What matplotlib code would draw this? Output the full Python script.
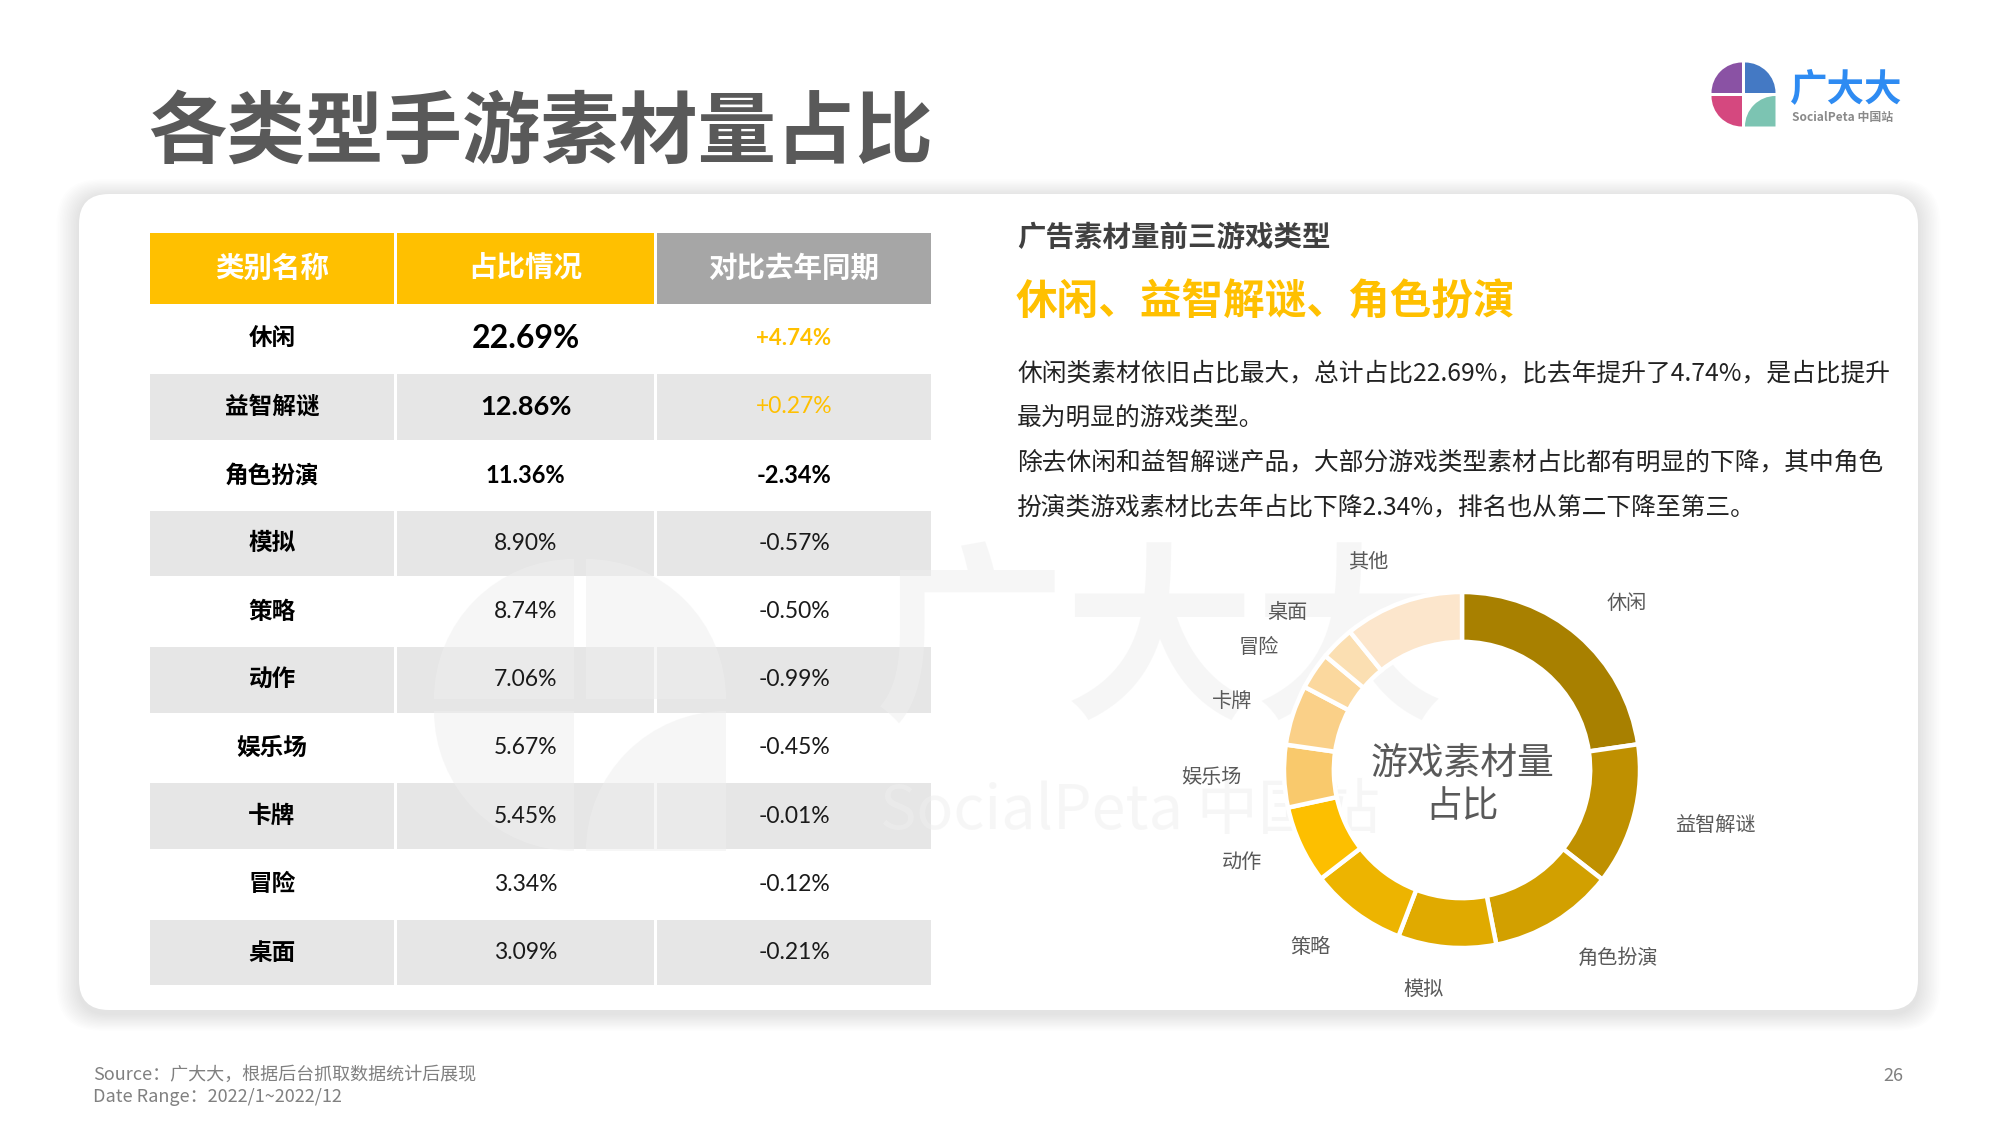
import matplotlib
matplotlib.use('Agg')
import matplotlib.pyplot as plt
from matplotlib.patches import Rectangle, FancyBboxPatch, Wedge

# ---------------- data ----------------
categories = ['休闲', '益智解谜', '角色扮演', '模拟', '策略', '动作', '娱乐场', '卡牌', '冒险', '桌面']
share = [22.69, 12.86, 11.36, 8.90, 8.74, 7.06, 5.67, 5.45, 3.34, 3.09]
yoy = [4.74, 0.27, -2.34, -0.57, -0.50, -0.99, -0.45, -0.01, -0.12, -0.21]
headers = ['类别名称', '占比情况', '对比去年同期']

pie_labels = ['休闲', '益智解谜', '角色扮演', '模拟', '策略', '动作', '娱乐场', '卡牌', '冒险', '桌面', '其他']
pie_values = [22.69, 12.86, 11.36, 8.90, 8.74, 7.06, 5.67, 5.45, 3.34, 3.09, 10.84]
pie_colors = ['#A88000', '#BF9000', '#D2A000', '#E0AA00', '#EDB400', '#FDBF00',
              '#F9C96C', '#FAD088', '#FBD89E', '#FBDFB2', '#FCE6CC']

title = '各类型手游素材量占比'
sub_title = '广告素材量前三游戏类型'
highlight = '休闲、益智解谜、角色扮演'
paragraph = ['休闲类素材依旧占比最大，总计占比22.69%，比去年提升了4.74%，是占比提升',
             '最为明显的游戏类型。',
             '除去休闲和益智解谜产品，大部分游戏类型素材占比都有明显的下降，其中角色',
             '扮演类游戏素材比去年占比下降2.34%，排名也从第二下降至第三。']
footer = ['Source：广大大，根据后台抓取数据统计后展现', 'Date Range：2022/1~2022/12']
page_no = '26'

CJK = ['Noto Sans CJK SC', 'DejaVu Sans']
NUM = ['Lato', 'Noto Sans CJK SC', 'DejaVu Sans']
YEL = '#FFC000'

fig = plt.figure(figsize=(20, 11.25), dpi=100)
fig.patch.set_facecolor('white')
ax = fig.add_axes([0, 0, 1, 1])
ax.set_xlim(0, 2000)
ax.set_ylim(1125, 0)
ax.axis('off')

# ---------------- card with soft shadow ----------------
cx0, cy0, cw, ch = 79, 194, 1839, 816
for i in range(14, 0, -1):
    ax.add_patch(FancyBboxPatch((cx0 - i * 1.6, cy0 - i * 1.2 + 2), cw + i * 3.2, ch + i * 2.4 + 2,
                                boxstyle='round,pad=0,rounding_size=%d' % (30 + i), lw=0,
                                fc='#000000', alpha=0.006, zorder=0))
ax.add_patch(FancyBboxPatch((cx0, cy0), cw, ch, boxstyle='round,pad=0,rounding_size=30',
                            lw=0, fc='white', zorder=0.5))

# ---------------- title ----------------
ax.text(148, 134, title, family=CJK, fontsize=56.5, fontweight='heavy', color='#595959',
        va='center', ha='left')

# ---------------- logo (top right) ----------------
lx, ly, lr = 1743.5, 94.5, 30.5
g = 1.5
ax.add_patch(Wedge((lx - g, ly - g), lr, 180, 270, fc='#8A52A4', lw=0))
ax.add_patch(Wedge((lx + g, ly - g), lr, 270, 360, fc='#4479C4', lw=0))
ax.add_patch(Wedge((lx - g, ly + g), lr, 90, 180, fc='#D5487F', lw=0))
ax.add_patch(Wedge((lx + g + lr, ly + g + lr), lr, 180, 270, fc='#7CC4B2', lw=0))
ax.text(1790, 89, '广大大', family=CJK, fontsize=27, fontweight='bold', color='#2E8BF2',
        va='center', ha='left')
ax.text(1792, 117.5, 'SocialPeta 中国站', family=CJK, fontsize=8.6, fontweight='bold',
        color='#8A8A8A', va='center', ha='left')

# ---------------- table ----------------
col_edges = [(150, 394), (397, 654), (657, 931)]
head_top, head_bot = 233, 304
row_top0, row_pitch, row_h = 306, 68.2, 65.5
head_colors = [YEL, YEL, '#A6A6A6']
for (x0, x1), htxt, hc in zip(col_edges, headers, head_colors):
    ax.add_patch(Rectangle((x0, head_top), x1 - x0, head_bot - head_top, fc=hc, lw=0, zorder=1))
    ax.text((x0 + x1) / 2, (head_top + head_bot) / 2, htxt, family=CJK, fontsize=20.5,
            fontweight='bold', color='white', ha='center', va='center', zorder=3)

for i, (name, s, d) in enumerate(zip(categories, share, yoy)):
    top = row_top0 + i * row_pitch
    yc = top + row_h / 2
    if i % 2 == 1:
        for x0, x1 in col_edges:
            ax.add_patch(Rectangle((x0, top), x1 - x0, row_h, fc='#E6E6E6', lw=0, zorder=1))
    ax.text(sum(col_edges[0]) / 2, yc, name, family=CJK, fontsize=17, fontweight='bold',
            color='black', ha='center', va='center', zorder=3)
    if i == 0:
        s_kw = dict(fontsize=23, fontweight='bold', color='black')
        d_kw = dict(fontsize=16, fontweight='bold', color=YEL)
    elif i == 1:
        s_kw = dict(fontsize=19.5, fontweight='bold', color='black')
        d_kw = dict(fontsize=16.5, fontweight='normal', color=YEL)
    elif i == 2:
        s_kw = dict(fontsize=17, fontweight='bold', color='black')
        d_kw = dict(fontsize=17, fontweight='bold', color='black')
    else:
        s_kw = dict(fontsize=16.5, fontweight='normal', color='#1a1a1a')
        d_kw = dict(fontsize=16.5, fontweight='normal', color='#1a1a1a')
    ax.text(sum(col_edges[1]) / 2, yc, f'{s:.2f}%', family=NUM, ha='center', va='center',
            zorder=3, **s_kw)
    ax.text(sum(col_edges[2]) / 2, yc, f'{d:+.2f}%', family=NUM, ha='center', va='center',
            zorder=3, **d_kw)

# ---------------- faint watermark ----------------
wm = '#EFEFEF'
wx, wy, wr = 580, 705, 140
for (ox, oy, t1, t2) in [(-6, -6, 180, 270), (6, -6, 270, 360), (-6, 6, 90, 180)]:
    ax.add_patch(Wedge((wx + ox, wy + oy), wr, t1, t2, fc=wm, lw=0, alpha=0.5, zorder=2))
ax.add_patch(Wedge((wx + 6 + wr, wy + 6 + wr), wr, 180, 270, fc=wm, lw=0, alpha=0.5, zorder=2))
ax.text(875, 650, '广大大', family=CJK, fontsize=137, fontweight='bold', color=wm,
        alpha=0.5, ha='left', va='center', zorder=2)
ax.text(880, 812, 'SocialPeta 中国站', family=CJK, fontsize=44, color=wm, alpha=0.5,
        ha='left', va='center', zorder=2)

# ---------------- right text ----------------
ax.text(1017, 238, sub_title, family=CJK, fontsize=20.5, fontweight='bold', color='#404040',
        ha='left', va='center', zorder=3)
ax.text(1016, 303, highlight, family=CJK, fontsize=30, fontweight='bold', color=YEL,
        ha='left', va='center', zorder=3)
for line, yy in zip(paragraph, [373, 418, 463, 508]):
    ax.text(1017, yy, line, family=CJK, fontsize=17.8, color='#222222',
            ha='left', va='center', zorder=3)

# ---------------- footer ----------------
for line, yy in zip(footer, [1075, 1097]):
    ax.text(93, yy, line, family=CJK, fontsize=13, color='#808080', ha='left', va='center')
ax.text(1893, 1076, page_no, family=CJK, fontsize=13, color='#808080', ha='center', va='center')

# ---------------- donut ----------------
pcx, pcy, R = 1462, 770, 178
half = 300
pax = fig.add_axes([(pcx - half) / 2000, (1125 - pcy - half) / 1125, 2 * half / 2000, 2 * half / 1125])
pax.patch.set_alpha(0)
wedges, texts = pax.pie(pie_values, labels=pie_labels, colors=pie_colors, startangle=90,
                        counterclock=False, labeldistance=1.24, radius=1,
                        wedgeprops=dict(width=0.28, edgecolor='white', linewidth=3.2),
                        textprops=dict(family=CJK, fontsize=14.5, color='#595959'))
pax.set_xlim(-half / R, half / R)
pax.set_ylim(-half / R, half / R)
pax.set_aspect('equal')
pax.axis('off')
pax.text(0, (pcy - 763) / R, '游戏素材量', family=CJK, fontsize=26.5, color='#595959',
         ha='center', va='center')
pax.text(0, (pcy - 806) / R, '占比', family=CJK, fontsize=26.5, color='#595959',
         ha='center', va='center')

fig.savefig('out.png', dpi=100, facecolor='white')
